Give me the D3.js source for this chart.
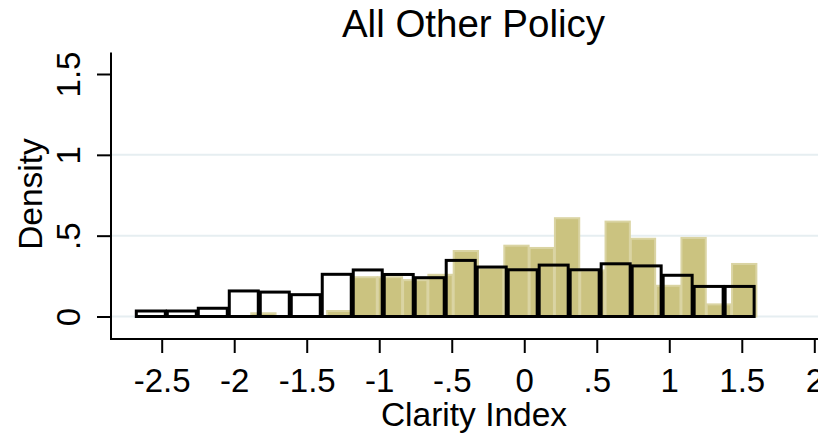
<!DOCTYPE html>
<html>
<head>
<meta charset="utf-8">
<script src="https://cdn.jsdelivr.net/npm/d3@7/dist/d3.min.js"></script>
<style>
  html, body { margin: 0; padding: 0; background: #fff; }
  svg { display: block; font-family: "Liberation Sans", Arial, sans-serif; }
</style>
</head>
<body>
<svg id="chart" width="818" height="433"></svg>
<script>
// ---- data ----
const titleText = "All Other Policy";
const xLabel = "Clarity Index";
const yLabel = "Density";
const xTicks = [-2.5, -2, -1.5, -1, -0.5, 0, 0.5, 1, 1.5, 2];
const xTickLabels = ["-2.5", "-2", "-1.5", "-1", "-.5", "0", ".5", "1", "1.5", "2"];
const yTicks = [0, 0.5, 1, 1.5];
const yTickLabels = ["0", ".5", "1", "1.5"];
const gridValues = [0, 0.5, 1];

// filled (tan) histogram
const tanStart = -1.886;
const tanWidth = 0.1745;
const tanDensity = [0.02, 0, 0, 0.034, 0.243, 0.243, 0.225, 0.258, 0.405, 0.30,
                    0.438, 0.424, 0.608, 0.285, 0.587, 0.481, 0.19, 0.486, 0.075, 0.325];

// outlined histogram
const outStart = -2.682;
const outWidth = 0.2137;
const outDensity = [0.034, 0.034, 0.051, 0.158, 0.151, 0.135, 0.261, 0.288, 0.26, 0.24,
                    0.347, 0.306, 0.289, 0.318, 0.289, 0.326, 0.313, 0.255, 0.186, 0.186];

// ---- layout ----
const svg = d3.select("#chart");
const plotLeft = 111, plotRight = 818, plotTop = 52.5, xAxisY = 339;
const x = d3.scaleLinear().domain([-2.5, 2]).range([161.7, 814.3]);
const y = d3.scaleLinear().domain([0, 1.5]).range([316.5, 74]);

// gridlines
svg.append("g").selectAll("line").data(gridValues).join("line")
  .attr("x1", plotLeft).attr("x2", plotRight)
  .attr("y1", d => y(d)).attr("y2", d => y(d))
  .attr("stroke", "#e6eef1").attr("stroke-width", 2);

// tan bars
const tanBins = tanDensity.map((v, i) => ({x0: tanStart + i * tanWidth, x1: tanStart + (i + 1) * tanWidth, v}))
  .filter(d => d.v > 0);
svg.append("g").selectAll("rect").data(tanBins).join("rect")
  .attr("x", d => x(d.x0) + 0.5)
  .attr("width", d => x(d.x1) - x(d.x0) - 1)
  .attr("y", d => y(d.v))
  .attr("height", d => y(0) - y(d.v))
  .attr("fill", "#cbc380")
  .attr("stroke", "#dad4a3")
  .attr("stroke-width", 2);

// outlined bars
const outBins = outDensity.map((v, i) => ({x0: outStart + i * outWidth, x1: outStart + (i + 1) * outWidth, v}));
svg.append("g").selectAll("rect").data(outBins).join("rect")
  .attr("x", d => x(d.x0) + 1)
  .attr("width", d => x(d.x1) - x(d.x0) - 2)
  .attr("y", d => y(d.v))
  .attr("height", d => y(0) - y(d.v))
  .attr("fill", "none")
  .attr("stroke", "#000")
  .attr("stroke-width", 3);

// y axis
const yAxis = d3.axisLeft(y).tickValues(yTicks).tickSize(14)
  .tickFormat((d, i) => yTickLabels[i]);
const gy = svg.append("g").attr("transform", `translate(${plotLeft},0)`).call(yAxis);
gy.select(".domain").remove();
gy.append("line").attr("x1", 0).attr("x2", 0).attr("y1", plotTop).attr("y2", xAxisY + 1)
  .attr("stroke", "#000").attr("stroke-width", 2);
gy.selectAll(".tick line").attr("stroke", "#000").attr("stroke-width", 2);
gy.selectAll(".tick text")
  .attr("x", 0).attr("y", 0).attr("dy", 0)
  .attr("transform", "translate(-31,0) rotate(-90)")
  .attr("text-anchor", "middle")
  .attr("font-size", 33).attr("fill", "#000")
  .style("font-family", "'Liberation Sans', Arial, sans-serif");

// x axis
const xAxis = d3.axisBottom(x).tickValues(xTicks).tickSize(14)
  .tickFormat((d, i) => xTickLabels[i]);
const gx = svg.append("g").attr("transform", `translate(0,${xAxisY})`).call(xAxis);
gx.select(".domain").remove();
gx.append("line").attr("x1", plotLeft - 1).attr("x2", plotRight).attr("y1", 0).attr("y2", 0)
  .attr("stroke", "#000").attr("stroke-width", 2);
gx.selectAll(".tick line").attr("stroke", "#000").attr("stroke-width", 2);
gx.selectAll(".tick text")
  .attr("y", 52.5).attr("dy", 0)
  .attr("font-size", 33).attr("fill", "#000")
  .style("font-family", "'Liberation Sans', Arial, sans-serif");

// axis titles
svg.append("text").attr("x", 474).attr("y", 426)
  .attr("text-anchor", "middle").attr("font-size", 33.5).text(xLabel);
svg.append("text").attr("transform", "translate(42,194) rotate(-90)")
  .attr("text-anchor", "middle").attr("font-size", 33.5).text(yLabel);

// title
svg.append("text").attr("x", 473.5).attr("y", 36.5)
  .attr("text-anchor", "middle").attr("font-size", 38.5).text(titleText);
</script>
</body>
</html>
